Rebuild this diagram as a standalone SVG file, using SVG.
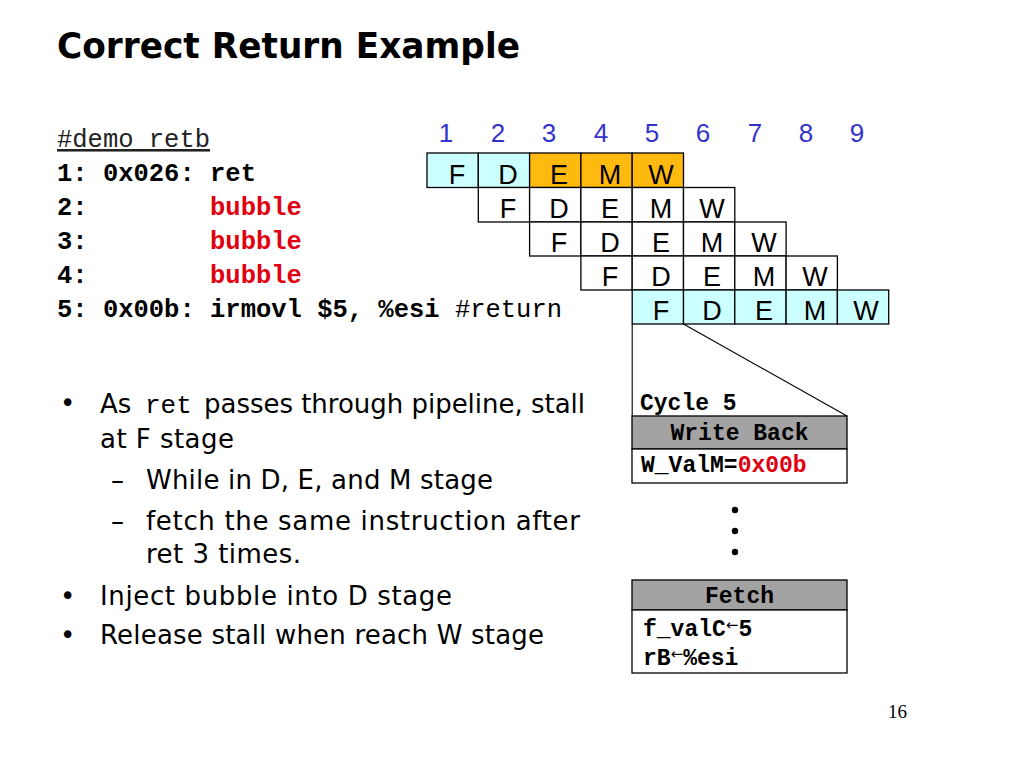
<svg xmlns="http://www.w3.org/2000/svg" width="1024" height="768" viewBox="0 0 1024 768">
<style>
.title{font-family:"DejaVu Sans","Noto Sans",sans-serif;font-weight:bold;font-size:35px;fill:#000}
.code{font-family:"Liberation Mono","Courier New",monospace;font-size:25.5px;font-weight:bold;fill:#000}
.norm{font-weight:normal}
.red{fill:#e0000f}
.num{font-family:"Liberation Sans",Arial,sans-serif;font-size:26px;fill:#3333cc;text-anchor:middle}
.cell{stroke:#000;stroke-width:1.3}
.wh{fill:#fff}
.cy{fill:#ccffff}
.or{fill:#ffb90f}
.lt{font-family:"Liberation Sans",Arial,sans-serif;font-size:27px;fill:#000;text-anchor:middle}
.bul{font-family:"DejaVu Sans","Noto Sans",sans-serif;font-size:26px;fill:#000}
.mono{font-family:"Liberation Mono","Courier New",monospace;font-size:23px;font-weight:bold;fill:#000}
.arr{font-family:"DejaVu Sans",sans-serif;font-size:15px;font-weight:normal}
.box{stroke:#000;stroke-width:1.3}
.gray{fill:#a3a3a3}
.line{stroke:#000;stroke-width:1.1;fill:none}
</style>

<g id="title">
<text class="title" x="57" y="58" textLength="463" lengthAdjust="spacingAndGlyphs">Correct Return Example</text>
</g>

<g id="code">
<text class="code norm" x="57" y="147" style="font-weight:normal;fill:#222" text-decoration="underline">#demo_retb</text>
<text class="code" x="57" y="181" xml:space="preserve">1: 0x026: ret</text>
<text class="code" x="57" y="215" xml:space="preserve">2:        <tspan class="red">bubble</tspan></text>
<text class="code" x="57" y="249" xml:space="preserve">3:        <tspan class="red">bubble</tspan></text>
<text class="code" x="57" y="283" xml:space="preserve">4:        <tspan class="red">bubble</tspan></text>
<text class="code" x="57" y="317" xml:space="preserve">5: 0x00b: irmovl $5, %esi <tspan style="font-weight:normal">#return</tspan></text>
</g>

<g id="cycle-numbers">
<text class="num" x="446" y="142">1</text>
<text class="num" x="498" y="142">2</text>
<text class="num" x="549" y="142">3</text>
<text class="num" x="601" y="142">4</text>
<text class="num" x="652" y="142">5</text>
<text class="num" x="703" y="142">6</text>
<text class="num" x="755" y="142">7</text>
<text class="num" x="806" y="142">8</text>
<text class="num" x="857" y="142">9</text>
</g>

<g id="row1">
<rect class="cell cy" x="427" y="153" width="51.3" height="34.5"/>
<rect class="cell cy" x="478.3" y="153" width="51.3" height="34.5"/>
<rect class="cell or" x="529.6" y="153" width="51.3" height="34.5"/>
<rect class="cell or" x="580.9" y="153" width="51.3" height="34.5"/>
<rect class="cell or" x="632.2" y="153" width="51.3" height="34.5"/>
<text class="lt" x="457" y="184">F</text>
<text class="lt" x="508" y="184">D</text>
<text class="lt" x="559" y="184">E</text>
<text class="lt" x="610" y="184">M</text>
<text class="lt" x="661" y="184">W</text>
</g>

<g id="row2">
<rect class="cell wh" x="478.3" y="187.5" width="51.3" height="34.5"/>
<rect class="cell wh" x="529.6" y="187.5" width="51.3" height="34.5"/>
<rect class="cell wh" x="580.9" y="187.5" width="51.3" height="34.5"/>
<rect class="cell wh" x="632.2" y="187.5" width="51.3" height="34.5"/>
<rect class="cell wh" x="683.5" y="187.5" width="51.3" height="34.5"/>
<text class="lt" x="508" y="218">F</text>
<text class="lt" x="559" y="218">D</text>
<text class="lt" x="610" y="218">E</text>
<text class="lt" x="661" y="218">M</text>
<text class="lt" x="712" y="218">W</text>
</g>

<g id="row3">
<rect class="cell wh" x="529.6" y="222" width="51.3" height="34"/>
<rect class="cell wh" x="580.9" y="222" width="51.3" height="34"/>
<rect class="cell wh" x="632.2" y="222" width="51.3" height="34"/>
<rect class="cell wh" x="683.5" y="222" width="51.3" height="34"/>
<rect class="cell wh" x="734.8" y="222" width="51.3" height="34"/>
<text class="lt" x="559" y="252">F</text>
<text class="lt" x="610" y="252">D</text>
<text class="lt" x="661" y="252">E</text>
<text class="lt" x="712" y="252">M</text>
<text class="lt" x="764" y="252">W</text>
</g>

<g id="row4">
<rect class="cell wh" x="580.9" y="256" width="51.3" height="34"/>
<rect class="cell wh" x="632.2" y="256" width="51.3" height="34"/>
<rect class="cell wh" x="683.5" y="256" width="51.3" height="34"/>
<rect class="cell wh" x="734.8" y="256" width="51.3" height="34"/>
<rect class="cell wh" x="786.1" y="256" width="51.3" height="34"/>
<text class="lt" x="610" y="286">F</text>
<text class="lt" x="661" y="286">D</text>
<text class="lt" x="712" y="286">E</text>
<text class="lt" x="764" y="286">M</text>
<text class="lt" x="815" y="286">W</text>
</g>

<g id="row5">
<rect class="cell cy" x="632.2" y="290" width="51.3" height="34"/>
<rect class="cell cy" x="683.5" y="290" width="51.3" height="34"/>
<rect class="cell cy" x="734.8" y="290" width="51.3" height="34"/>
<rect class="cell cy" x="786.1" y="290" width="51.3" height="34"/>
<rect class="cell cy" x="837.4" y="290" width="51.3" height="34"/>
<text class="lt" x="661" y="320">F</text>
<text class="lt" x="712" y="320">D</text>
<text class="lt" x="764" y="320">E</text>
<text class="lt" x="815" y="320">M</text>
<text class="lt" x="866" y="320">W</text>
</g>

<g id="connectors">
<line class="line" x1="632.2" y1="324" x2="632.2" y2="416"/>
<line class="line" x1="683.5" y1="324" x2="847" y2="416"/>
</g>

<g id="writeback">
<text class="mono" x="640" y="410">Cycle 5</text>
<rect class="box gray" x="632" y="416" width="215" height="33"/>
<text class="mono" x="739.5" y="440" text-anchor="middle">Write Back</text>
<rect class="box wh" x="632" y="449" width="215" height="34"/>
<text class="mono" x="641" y="472">W_ValM=<tspan class="red">0x00b</tspan></text>
</g>

<g id="dots">
<circle cx="735" cy="510" r="3.2" fill="#000"/>
<circle cx="735" cy="531" r="3.2" fill="#000"/>
<circle cx="735" cy="552" r="3.2" fill="#000"/>
</g>

<g id="fetch">
<rect class="box gray" x="632" y="580" width="215" height="30"/>
<text class="mono" x="739.5" y="603" text-anchor="middle">Fetch</text>
<rect class="box wh" x="632" y="610" width="215" height="63"/>
<text class="mono" x="643" y="636">f_valC<tspan class="arr" dy="-6">←</tspan><tspan dy="6">5</tspan></text>
<text class="mono" x="643" y="665">rB<tspan class="arr" dy="-6">←</tspan><tspan dy="6">%esi</tspan></text>
</g>

<g id="bullets">
<text class="bul" x="60" y="412">•</text>
<text class="bul" x="100" y="413">As</text>
<text x="145" y="413" style="font-family:'Liberation Mono',monospace;font-size:26px">ret</text>
<text class="bul" x="204" y="413" textLength="381">passes through pipeline, stall</text>
<text class="bul" x="100" y="448" textLength="134">at F stage</text>
<text class="bul" x="111" y="489">–</text>
<text class="bul" x="146" y="489" textLength="347">While in D, E, and M stage</text>
<text class="bul" x="111" y="530">–</text>
<text class="bul" x="146" y="530" textLength="434">fetch the same instruction after</text>
<text class="bul" x="146" y="563" textLength="155">ret 3 times.</text>
<text class="bul" x="60" y="605">•</text>
<text class="bul" x="100" y="605" textLength="352">Inject bubble into D stage</text>
<text class="bul" x="60" y="644">•</text>
<text class="bul" x="100" y="644" textLength="444">Release stall when reach W stage</text>
</g>

<g id="page">
<text x="888" y="718" style="font-family:'Liberation Serif',serif;font-size:19px">16</text>
</g>
</svg>
